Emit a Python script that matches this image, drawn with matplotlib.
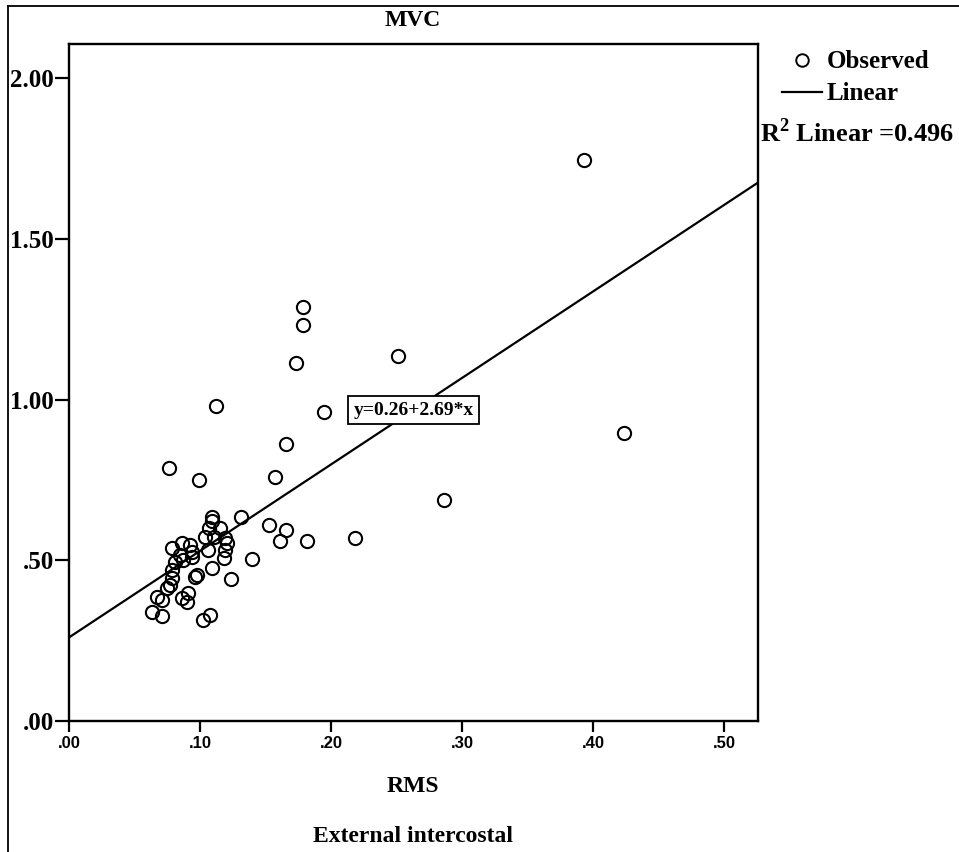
import matplotlib
matplotlib.use("Agg")
import matplotlib.pyplot as plt
from matplotlib.lines import Line2D
from matplotlib.ticker import FixedLocator, FixedFormatter

# RMS (x) and MVC (y) values
rms = [0.393, 0.424, 0.251, 0.286, 0.179, 0.179, 0.173, 0.195, 0.166, 0.157,
       0.112, 0.076, 0.099, 0.153, 0.166, 0.161, 0.182, 0.218, 0.131, 0.140,
       0.124, 0.109, 0.109, 0.107, 0.115, 0.104, 0.111, 0.119, 0.121, 0.119,
       0.086, 0.092, 0.079, 0.094, 0.106, 0.085, 0.081, 0.087, 0.094, 0.118,
       0.079, 0.079, 0.077, 0.075, 0.096, 0.098, 0.109, 0.067, 0.071, 0.086,
       0.090, 0.091, 0.063, 0.071, 0.102, 0.108]
mvc = [1.745, 0.896, 1.135, 0.687, 1.288, 1.232, 1.114, 0.961, 0.862, 0.759,
       0.980, 0.787, 0.750, 0.610, 0.594, 0.560, 0.560, 0.569, 0.635, 0.504,
       0.442, 0.635, 0.622, 0.600, 0.600, 0.572, 0.572, 0.569, 0.554, 0.532,
       0.554, 0.547, 0.538, 0.526, 0.532, 0.516, 0.495, 0.501, 0.510, 0.507,
       0.470, 0.445, 0.423, 0.414, 0.448, 0.454, 0.476, 0.386, 0.376, 0.383,
       0.370, 0.398, 0.339, 0.327, 0.314, 0.330]

# fitted line y = a + b*x
intercept = 0.26
slope = 2.69
r2_text = "0.496"

x_ticks = [0.0, 0.1, 0.2, 0.3, 0.4, 0.5]
x_tick_labels = [".00", ".10", ".20", ".30", ".40", ".50"]
y_ticks = [0.0, 0.5, 1.0, 1.5, 2.0]
y_tick_labels = [".00", ".50", "1.00", "1.50", "2.00"]

serif = "Liberation Serif"
sans = "Liberation Sans"
plt.rcParams["mathtext.fontset"] = "custom"
plt.rcParams["mathtext.bf"] = "Liberation Serif:bold"
plt.rcParams["mathtext.rm"] = "Liberation Serif:bold"

W, H = 959, 852
fig = plt.figure(figsize=(W / 100, H / 100), dpi=100)
ax = fig.add_axes([69 / W, 1 - 721 / H, (758 - 69) / W, (721 - 44) / H])

xmax, ymax = 0.526, 2.106
ax.set_xlim(0, xmax)
ax.set_ylim(0, ymax)

ax.plot(rms, mvc, "o", ms=9.5, mfc="none", mec="black", mew=1.5, zorder=3)
ax.plot([0, xmax], [intercept, intercept + slope * xmax], color="black", lw=1.6, zorder=2)

ax.text(0.263, 0.967, "y=%.2f+%.2f*x" % (intercept, slope), ha="center", va="center",
        fontfamily=serif, fontweight="bold", fontsize=14, zorder=4,
        bbox=dict(boxstyle="square,pad=0.3", fc="white", ec="black", lw=1.3))

for s in ax.spines.values():
    s.set_linewidth(1.7)

ax.xaxis.set_major_locator(FixedLocator(x_ticks))
ax.xaxis.set_major_formatter(FixedFormatter(x_tick_labels))
ax.yaxis.set_major_locator(FixedLocator(y_ticks))
ax.yaxis.set_major_formatter(FixedFormatter(y_tick_labels))
ax.tick_params(axis="x", direction="out", length=8, width=1.6, pad=3)
ax.tick_params(axis="y", direction="out", length=10, width=1.6, pad=1)
for lab in ax.get_xticklabels():
    lab.set_fontfamily(sans)
    lab.set_fontweight("bold")
    lab.set_fontsize(12)
for lab in ax.get_yticklabels():
    lab.set_fontfamily(serif)
    lab.set_fontweight("bold")
    lab.set_fontsize(18)

# titles
fig.text(413 / W, 1 - 20 / H, "MVC", ha="center", va="center",
         fontfamily=serif, fontweight="bold", fontsize=17)
fig.text(413 / W, 1 - 787 / H, "RMS", ha="center", va="center",
         fontfamily=serif, fontweight="bold", fontsize=17)
fig.text(413 / W, 1 - 836 / H, "External intercostal", ha="center", va="center",
         fontfamily=serif, fontweight="bold", fontsize=17)

# legend drawn by hand
fig.add_artist(Line2D([802 / W], [1 - 60 / H], marker="o", ms=9, mfc="none",
                      mec="black", mew=1.4, transform=fig.transFigure))
fig.text(827 / W, 1 - 62 / H, "Observed", ha="left", va="center",
         fontfamily=serif, fontweight="bold", fontsize=18)
fig.add_artist(Line2D([782 / W, 822 / W], [1 - 92 / H, 1 - 92 / H], color="black",
                      lw=1.6, transform=fig.transFigure))
fig.text(827 / W, 1 - 94 / H, "Linear", ha="left", va="center",
         fontfamily=serif, fontweight="bold", fontsize=18)
fig.text(760 / W, 1 - 133 / H, r"R$^{\mathbf{2}}$ Linear =" + r2_text, ha="left", va="center",
         fontfamily=serif, fontweight="bold", fontsize=19)

# outer frame (top and left edges)
fig.add_artist(Line2D([8 / W, 1], [1 - 6 / H, 1 - 6 / H], color="black", lw=1.3,
                      transform=fig.transFigure))
fig.add_artist(Line2D([8 / W, 8 / W], [1 - 6 / H, 0], color="black", lw=1.3,
                      transform=fig.transFigure))

fig.savefig("out.png", dpi=100, facecolor="white")
